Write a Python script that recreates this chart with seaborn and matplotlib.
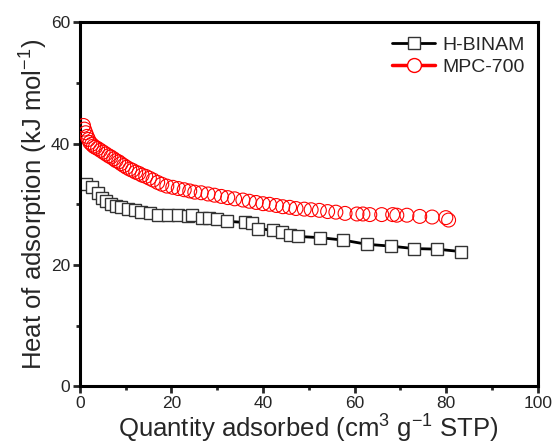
import matplotlib
matplotlib.use("Agg")
import matplotlib.pyplot as plt
from matplotlib.lines import Line2D
from matplotlib.ticker import MultipleLocator
import seaborn as sns

# H-BINAM (squares, black line)
hb_x = [1.3, 2.6, 3.9, 4.8, 5.7, 6.8, 7.9, 9.0, 10.5, 12.0, 13.3, 15.3, 17.0, 19.2,
        21.4, 23.6, 24.5, 26.6, 28.2, 29.9, 32.1, 36.0, 37.6, 38.9, 42.1, 44.1,
        45.9, 47.6, 52.4, 57.4, 62.7, 67.9, 72.9, 77.9, 83.2]
hb_y = [33.3, 32.8, 31.8, 31.1, 30.6, 30.1, 29.8, 29.5, 29.2, 29.0, 28.7, 28.5, 28.3, 28.2,
        28.2, 28.0, 28.2, 27.8, 27.7, 27.5, 27.2, 27.0, 26.9, 26.0, 25.7, 25.4,
        25.0, 24.7, 24.5, 24.1, 23.4, 23.1, 22.7, 22.6, 22.2]

# MPC-700 (open circles, red)
mpc_x = [0.8, 1.0, 1.3, 1.6, 1.9, 2.2, 2.6, 3.0, 3.4, 3.9, 4.5, 5.1, 5.7, 6.3, 6.8,
         7.4, 7.9, 8.5, 9.0, 9.6, 10.2, 10.9, 11.5, 12.2, 12.9, 13.6, 14.4, 15.2,
         16.0, 17.0, 17.9, 19.0, 20.3, 21.5, 22.8, 24.0, 25.1, 26.5, 28.0, 29.4,
         30.9, 32.3, 33.8, 35.6, 37.0, 38.5, 40.0, 41.4, 42.9, 44.3, 45.8, 47.2,
         49.0, 50.5, 52.3, 54.1, 55.9, 57.9, 60.5, 61.8, 63.3, 65.9, 68.3, 69.2,
         71.4, 74.2, 76.9, 79.9, 80.5]
mpc_y = [43.0, 42.4, 41.8, 41.2, 40.7, 40.2, 39.9, 39.6, 39.4, 39.2, 38.9, 38.6, 38.3,
         38.0, 37.8, 37.5, 37.2, 37.0, 36.7, 36.4, 36.1, 35.8, 35.6, 35.3, 35.1,
         34.8, 34.6, 34.3, 34.0, 33.6, 33.3, 33.0, 32.8, 32.6, 32.4, 32.2, 32.0,
         31.9, 31.7, 31.5, 31.3, 31.1, 30.9, 30.7, 30.5, 30.3, 30.1, 30.0, 29.8,
         29.6, 29.5, 29.3, 29.2, 29.1, 29.0, 28.8, 28.7, 28.5, 28.4, 28.4, 28.3,
         28.3, 28.3, 28.2, 28.2, 28.0, 27.9, 27.8, 27.4]

sns.set_style("white")
plt.rcParams['font.family'] = ['Liberation Sans', 'DejaVu Sans']
plt.rcParams['mathtext.fontset'] = 'custom'
plt.rcParams['mathtext.rm'] = 'Liberation Sans'

fig = plt.figure(figsize=(5.54, 4.48), dpi=100)
ax = fig.add_axes([0.144, 0.138, 0.827, 0.812])

sns.lineplot(x=hb_x, y=hb_y, ax=ax, color='black', linewidth=2, marker='s',
             markersize=9, markerfacecolor='white', markeredgecolor='#333333',
             markeredgewidth=1, estimator=None, sort=False)
sns.scatterplot(x=mpc_x, y=mpc_y, ax=ax, marker='o', s=100, facecolors='none',
                edgecolor='red', linewidth=0.8, zorder=3)

ax.set_xlim(0, 100)
ax.set_ylim(0, 60)
ax.xaxis.set_major_locator(MultipleLocator(20))
ax.xaxis.set_minor_locator(MultipleLocator(10))
ax.yaxis.set_major_locator(MultipleLocator(20))
ax.yaxis.set_minor_locator(MultipleLocator(10))
ax.tick_params(which='major', direction='out', length=5, width=2, labelsize=12.5,
               bottom=True, left=True, top=False, right=False, pad=2)
ax.tick_params(which='minor', direction='out', length=3, width=2,
               bottom=True, left=True, top=False, right=False)
for s in ax.spines.values():
    s.set_linewidth(2.2)
    s.set_color('black')

ax.set_xlabel("Quantity adsorbed (cm$^3$ g$^{-1}$ STP)", fontsize=18.5, labelpad=0)
ax.set_ylabel("Heat of adsorption (kJ mol$^{-1}$)", fontsize=18.5, labelpad=1)

handles = [
    Line2D([], [], color='black', linewidth=2, marker='s', markersize=9,
           markerfacecolor='white', markeredgecolor='#333333'),
    Line2D([], [], color='red', linewidth=2.5, marker='o', markersize=10,
           markerfacecolor='white', markeredgecolor='red'),
]
ax.legend(handles, ['H-BINAM', 'MPC-700'], loc='upper right', frameon=False,
          fontsize=14, handlelength=2.2, handletextpad=0.35, labelspacing=0.25,
          borderaxespad=0.5, borderpad=0.2)

fig.savefig("out.png", dpi=100)
